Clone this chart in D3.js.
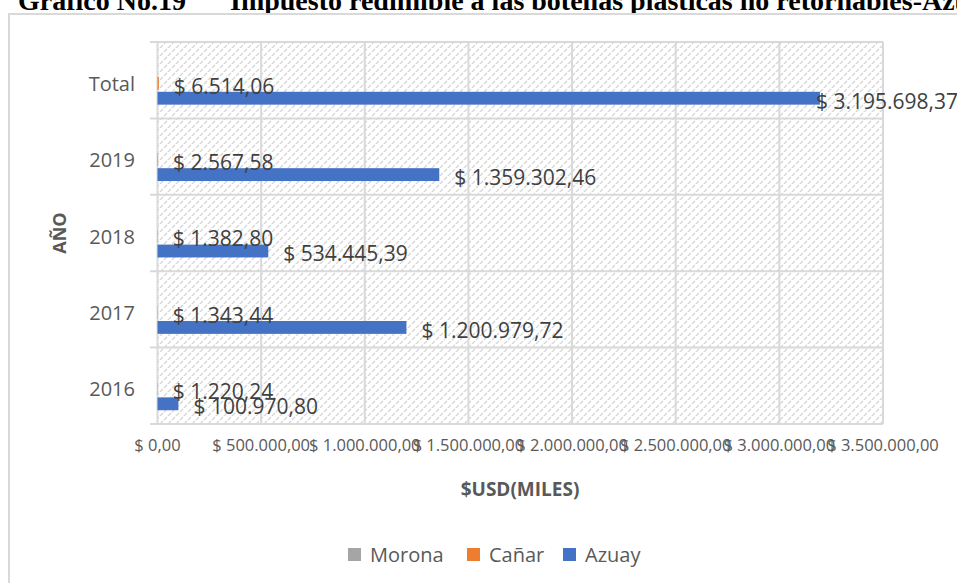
<!DOCTYPE html>
<html>
<head>
<meta charset="utf-8">
<script src="https://cdnjs.cloudflare.com/ajax/libs/d3/7.8.5/d3.min.js"></script>
<style>
  html, body { margin: 0; padding: 0; background: #fff; overflow: hidden; }
  svg { display: block; }
</style>
</head>
<body>
<div id="root"></div>
<script>
// data
var categories = ["Total", "2019", "2018", "2017", "2016"];
var seriesNames = ["Morona", "Cañar", "Azuay"];
var seriesColors = ["#A5A5A5", "#ED7D31", "#4472C4"];
var morona = [0, 0, 0, 0, 0];
var canar = [6514.06, 2567.58, 1382.80, 1343.44, 1220.24];
var azuay = [3195698.37, 1359302.46, 534445.39, 1200979.72, 100970.80];
var xTicks = [0, 500000, 1000000, 1500000, 2000000, 2500000, 3000000, 3500000];

var W = 957, H = 583;
var font = "'Open Sans', 'DejaVu Sans', sans-serif";
var grey = "#595959";

var svg = d3.select("#root").append("svg")
    .attr("width", W).attr("height", H);

function money(v) {
    return "$ " + d3.format(",.2f")(v).replace(/,/g, "#").replace(".", ",").replace(/#/g, ".");
}

// hatch pattern for the plot area
var defs = svg.append("defs");
var pat = defs.append("pattern")
    .attr("id", "hatch")
    .attr("patternUnits", "userSpaceOnUse")
    .attr("width", 8).attr("height", 8);
pat.append("rect").attr("width", 8).attr("height", 8).attr("fill", "#fff");
pat.append("path")
    .attr("d", "M0,8 L3,5 M4,4 L7,1 M6,10 L9,7")
    .attr("stroke", "#d4d4d4").attr("stroke-width", 1.2);

// title (clipped at the top like the source)
var title = svg.append("text")
    .attr("y", 10)
    .style("font-family", "'Liberation Serif', 'Times New Roman', serif")
    .style("font-weight", "bold")
    .style("font-size", "28px")
    .attr("fill", "#000");
title.append("tspan").attr("x", 18).text("Gráfico No.19");
title.append("tspan").attr("x", 230).text("Impuesto redimible a las botellas plásticas no retornables-Azuay, Cañar y Morona");

// chart frame
svg.append("rect")
    .attr("x", 9).attr("y", 14)
    .attr("width", 1200).attr("height", 1000)
    .attr("fill", "#fff")
    .attr("stroke", "#d9d9d9").attr("stroke-width", 2);

var x = d3.scaleLinear().domain([0, 3500000]).range([157.5, 883]);
var y0 = d3.scaleBand().domain(categories).range([42, 424]);
var y1 = d3.scaleBand().domain(seriesNames)
    .range([y0.bandwidth() * 0.26, y0.bandwidth() * 0.82])
    .paddingInner(0.14);

var g = svg.append("g");

// plot background
g.append("rect")
    .attr("x", x(0)).attr("y", y0.range()[0])
    .attr("width", x(3500000) - x(0))
    .attr("height", y0.range()[1] - y0.range()[0])
    .attr("fill", "url(#hatch)");

// vertical gridlines
g.selectAll("line.vgrid")
    .data(xTicks)
    .enter().append("line")
    .attr("class", "vgrid")
    .attr("x1", function(d) { return x(d); })
    .attr("x2", function(d) { return x(d); })
    .attr("y1", 42).attr("y2", 424)
    .attr("stroke", "#d9d9d9").attr("stroke-width", 2);

// horizontal category boundaries (+ small ticks to the left)
var bounds = categories.map(function(c) { return y0(c); }).concat([424]);
g.selectAll("line.hgrid")
    .data(bounds)
    .enter().append("line")
    .attr("class", "hgrid")
    .attr("x1", 150).attr("x2", x(3500000))
    .attr("y1", function(d) { return d; })
    .attr("y2", function(d) { return d; })
    .attr("stroke", "#d9d9d9").attr("stroke-width", 2);

// x tick labels
g.selectAll("text.xt")
    .data(xTicks)
    .enter().append("text")
    .attr("class", "xt")
    .attr("x", function(d) { return x(d); })
    .attr("y", 451)
    .attr("text-anchor", "middle")
    .style("font-family", font).style("font-size", "16.5px")
    .attr("fill", grey)
    .text(function(d) { return money(d); });

// category labels
g.selectAll("text.cat")
    .data(categories)
    .enter().append("text")
    .attr("class", "cat")
    .attr("x", 135)
    .attr("y", function(d) { return y0(d) + y0.bandwidth() / 2 + 3.5; })
    .attr("dy", "0.35em")
    .attr("text-anchor", "end")
    .style("font-family", font).style("font-size", "20px")
    .attr("fill", grey)
    .text(function(d) { return d; });

// bars
var seriesData = [morona, canar, azuay];
var rows = [];
categories.forEach(function(c, i) {
    seriesNames.forEach(function(s, j) {
        rows.push({ cat: c, series: s, value: seriesData[j][i], color: seriesColors[j] });
    });
});

g.selectAll("rect.bar")
    .data(rows)
    .enter().append("rect")
    .attr("class", "bar")
    .attr("x", x(0))
    .attr("y", function(d) { return y0(d.cat) + y1(d.series); })
    .attr("width", function(d) { return x(d.value) - x(0); })
    .attr("height", y1.bandwidth())
    .attr("fill", function(d) { return d.color; });

// data labels (the Total one is pulled back onto the bar end, as Excel does)
g.selectAll("text.lbl")
    .data(rows.filter(function(d) { return d.series !== "Morona"; }))
    .enter().append("text")
    .attr("class", "lbl")
    .attr("x", function(d) {
        var px = x(d.value) + 15;
        return px + 140 > W ? x(d.value) - 4 : px;
    })
    .attr("y", function(d) { return y0(d.cat) + y1(d.series) + y1.bandwidth() / 2 + 3; })
    .attr("dy", "0.35em")
    .style("font-family", font).style("font-size", "21px")
    .attr("fill", "#404040")
    .text(function(d) { return money(d.value); });

// axis titles
svg.append("text")
    .attr("transform", "translate(66,233) rotate(-90)")
    .attr("text-anchor", "middle")
    .style("font-family", font).style("font-size", "18px").style("font-weight", "bold")
    .attr("fill", grey)
    .text("AÑO");

svg.append("text")
    .attr("x", 520).attr("y", 496)
    .attr("text-anchor", "middle")
    .style("font-family", font).style("font-size", "19px").style("font-weight", "bold")
    .attr("fill", grey)
    .text("$USD(MILES)");

// legend
var legendX = [348, 467, 563];
var legend = svg.selectAll("g.leg")
    .data(seriesNames)
    .enter().append("g")
    .attr("class", "leg")
    .attr("transform", function(d, i) { return "translate(" + legendX[i] + ",548)"; });
legend.append("rect")
    .attr("width", 13).attr("height", 13)
    .attr("fill", function(d, i) { return seriesColors[i]; });
legend.append("text")
    .attr("x", 22).attr("y", 6.5).attr("dy", "0.35em")
    .style("font-family", font).style("font-size", "20px")
    .attr("fill", grey)
    .text(function(d) { return d; });
</script>
</body>
</html>
